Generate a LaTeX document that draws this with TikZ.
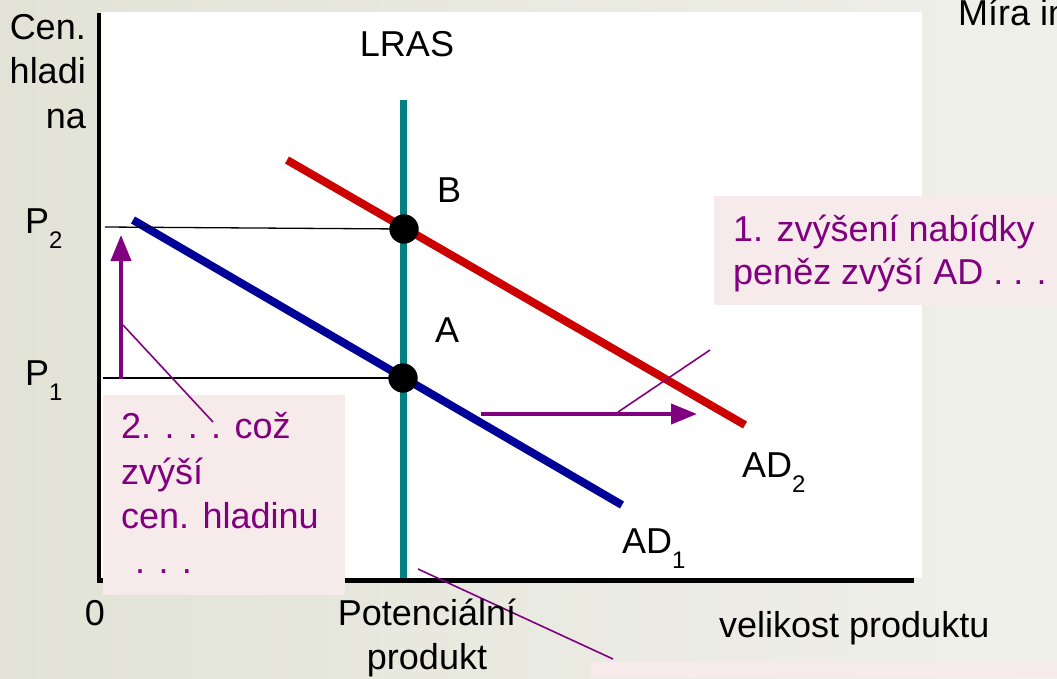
\documentclass[tikz,border=0pt]{standalone}
\usepackage{fontspec}
\setmainfont{Liberation Sans}
\usetikzlibrary{arrows.meta}
\definecolor{bgL}{HTML}{E2E3D6}
\definecolor{bgR}{HTML}{F0F0EB}
\definecolor{pinkbox}{HTML}{F7EAEA}
\definecolor{purp}{HTML}{800080}
\definecolor{redad}{HTML}{CC0000}
\definecolor{bluead}{HTML}{000099}
\definecolor{lrasteal}{HTML}{008080}
\newcommand\lsub[1]{\raisebox{-0.42em}{\fontsize{24}{24}\selectfont #1}}
\begin{document}
\begin{tikzpicture}[x=1pt,y=-1pt,
  lbl/.style={font=\fontsize{36}{44}\selectfont, inner sep=0pt, text=black},
  plbl/.style={lbl, text=purp},
  curve/.style={line width=8pt},
  guide/.style={line width=1.3pt, black},
  callout/.style={purp, line width=1.6pt},
  shiftarrow/.style={purp, line width=4pt, -{Triangle[length=26pt,width=20pt]}},
  dot/.style={circle, fill=black, minimum size=29pt, inner sep=0pt},
  note/.style={fill=pinkbox}]

\useasboundingbox (0,0) rectangle (1057,678);
\fill[left color=bgL, right color=bgR] (0,0) rectangle (1057,678);
\fill[white] (101,12) rectangle (922,578);

% axes
\draw[line width=4pt] (99,13) -- (99,582);
\draw[line width=5pt] (97,580) -- (914,580);

% LRAS
\coordinate (lrasTop) at (403,100);
\coordinate (lrasBot) at (403,578);
\draw[lrasteal, line width=7pt] (lrasTop) -- (lrasBot);

% AD curves
\coordinate (ad1s) at (133,220);
\coordinate (ad1e) at (622,505);
\coordinate (ad2s) at (287,160);
\coordinate (ad2e) at (745,425);
\draw[bluead, curve] (ad1s) -- (ad1e);
\draw[redad, curve] (ad2s) -- (ad2e);

% equilibrium points
\node[dot] (B) at (404,229) {};
\node[dot] (A) at (403,378) {};
\coordinate (p2s) at (105,227);
\coordinate (p1s) at (103,378);
\draw[guide] (p2s) -- (B.center);
\draw[guide] (p1s) -- (A.center);
\fill (B) circle (14.5pt);
\fill (A) circle (14.5pt);

% shift arrows
\coordinate (upS) at (121,379);
\coordinate (upE) at (121,235);
\draw[shiftarrow] (upS) -- (upE);
\coordinate (rS) at (481,414);
\coordinate (rE) at (697,414);
\draw[shiftarrow] (rS) -- (rE);

% note boxes
\fill[note] (714,196) rectangle (1057,305);
\fill[note] (103,395) rectangle (345,595);
\fill[note] (590,662) rectangle (1057,678);

% callouts
\coordinate (c1a) at (618,412);
\coordinate (c1b) at (710,350);
\draw[callout] (c1a) -- (c1b);
\coordinate (c2a) at (123,325);
\coordinate (c2b) at (213,422);
\draw[callout] (c2a) -- (c2b);
\coordinate (c3a) at (418,569);
\coordinate (c3b) at (613,659);
\draw[callout] (c3a) -- (c3b);

% axis labels
\node[lbl, anchor=base east] (yl1) at (86,39) {Cen.};
\node[lbl, anchor=base east] (yl2) at (86,83) {hladi};
\node[lbl, anchor=base east] (yl3) at (86,128) {na};
\node[lbl, anchor=base west] (P2) at (25,233) {P\lsub{2}};
\node[lbl, anchor=base west] (P1) at (25,385) {P\lsub{1}};
\node[lbl, anchor=base] (zero) at (95,625) {0};
\node[lbl, anchor=base] (pot1) at (427,625) {Potenciální};
\node[lbl, anchor=base] (pot2) at (427,669) {produkt};
\node[lbl, anchor=base west] (xl) at (719,637) {velikost produktu};
\node[lbl, anchor=base west] (mira) at (958,25) {Míra in};

% curve labels
\node[lbl, anchor=base] (lras) at (407,56) {LRAS};
\node[lbl, anchor=base] (Bl) at (449,202) {B};
\node[lbl, anchor=base] (Al) at (447,342) {A};
\node[lbl, anchor=base west] (ad2) at (742,477) {AD\lsub{2}};
\node[lbl, anchor=base west] (ad1) at (622,553) {AD\lsub{1}};

% note texts
\node[plbl, anchor=base west] (n1a) at (733,241) {1. zvýšení nabídky};
\node[plbl, anchor=base west] (n1b) at (733,284) {peněz zvýší AD . . .};
\node[plbl, anchor=base west] (n2a) at (121,438) {2. . . . což};
\node[plbl, anchor=base west] (n2b) at (121,484) {zvýší};
\node[plbl, anchor=base west] (n2c) at (121,528) {cen. hladinu};
\node[plbl, anchor=base west] (n2d) at (135,573) {. . .};
\end{tikzpicture}
\end{document}
